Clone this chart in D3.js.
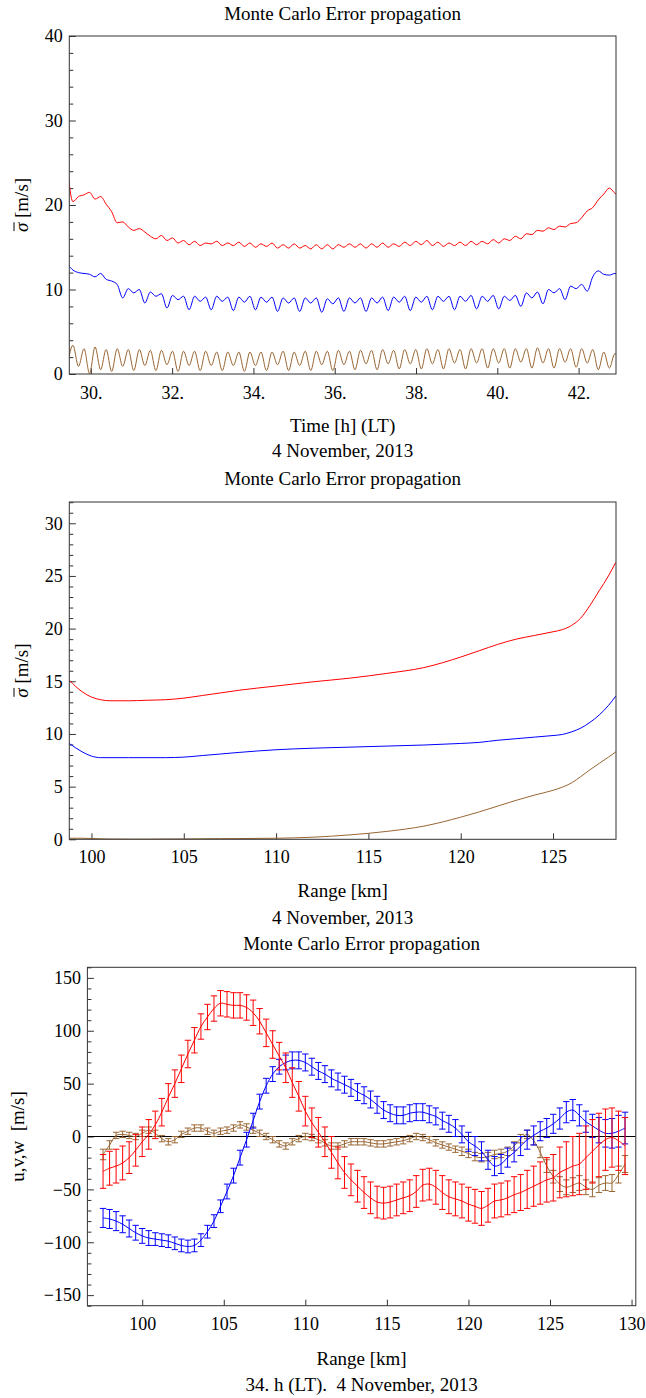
<!DOCTYPE html>
<html>
<head>
<meta charset="utf-8">
<script src="https://cdn.jsdelivr.net/npm/d3@7"></script>
<style>
  body { margin: 0; background: #fff; }
  svg { display: block; }
</style>
</head>
<body>
<svg id="chart" width="646" height="1398"></svg>
<script>
// ---------- Panel 1: mean sigma vs local time (uniform sampling) ----------
const hourStart = 29.424;
const hourStep = 0.13604;
const sigmaU_time = [
  24.5, 20.4, 21.0, 21.2, 21.5, 20.7, 21.0, 20.1, 19.2, 17.9,
  18.0, 17.4, 17.0, 17.2, 16.8, 16.3, 16.0, 16.4, 15.8, 16.1,
  15.5, 15.8, 15.3, 15.7, 15.2, 15.5, 15.4, 15.7, 15.2, 15.5,
  15.2, 15.6, 15.1, 15.5, 15.0, 15.4, 15.1, 15.5, 14.9, 15.3,
  14.9, 15.4, 14.9, 15.2, 14.8, 15.3, 14.8, 15.3, 14.8, 15.3,
  15.0, 15.4, 15.0, 15.4, 14.9, 15.4, 15.0, 15.5, 15.0, 15.4,
  15.1, 15.6, 15.2, 15.7, 15.3, 15.8, 15.2, 15.6, 15.1, 15.5,
  15.2, 15.6, 15.2, 15.7, 15.3, 15.7, 15.4, 15.9, 15.5, 16.0,
  15.8, 16.3, 16.0, 16.6, 16.5, 17.0, 16.9, 17.3, 17.1, 17.5,
  17.4, 17.8, 17.9, 18.5, 19.3, 19.7, 20.6, 21.3, 22.0, 21.4,
  21.0
];
const sigmaV_time = [
  13.0, 12.3, 12.0, 11.9, 11.8, 11.5, 11.9, 11.2, 11.0, 10.6,
  9.0, 10.1, 9.6, 10.0, 8.4, 9.7, 9.2, 9.5, 7.8, 9.3,
  8.8, 9.2, 7.6, 9.2, 8.6, 9.1, 7.6, 9.2, 8.6, 9.1,
  7.5, 9.1, 8.5, 9.2, 7.6, 9.1, 8.5, 9.1, 7.4, 9.0,
  8.4, 9.0, 7.4, 9.0, 8.4, 9.0, 7.3, 8.9, 8.3, 9.0,
  7.4, 9.0, 8.4, 9.0, 7.4, 9.0, 8.4, 9.1, 7.5, 9.1,
  8.5, 9.2, 7.5, 9.1, 8.5, 9.2, 7.6, 9.2, 8.6, 9.2,
  7.6, 9.2, 8.6, 9.3, 7.7, 9.2, 8.6, 9.3, 7.7, 9.2,
  8.7, 9.3, 8.0, 9.6, 9.0, 9.7, 8.3, 10.0, 9.6, 10.1,
  8.8, 10.4, 10.1, 10.6, 9.8, 11.5, 12.2, 11.8, 11.7, 11.9,
  11.8
];
const sigmaW_time = [
  1.0, 3.4, 0.9, 3.0, 0.05, 3.2, 0.5, 2.9, 0.3, 3.0,
  0.9, 2.9, 0.4, 2.9, 1.0, 2.8, 0.4, 2.8, 1.1, 2.7,
  0.3, 2.7, 1.0, 2.7, 0.4, 2.7, 1.0, 2.6, 0.4, 2.6,
  1.0, 2.6, 0.3, 2.6, 1.0, 2.6, 0.4, 2.6, 1.1, 2.7,
  0.4, 2.6, 1.0, 2.7, 0.4, 2.7, 1.1, 2.7, 0.4, 2.8,
  1.1, 2.7, 0.5, 2.8, 1.2, 2.8, 0.5, 2.9, 1.2, 2.8,
  0.6, 2.9, 1.2, 2.9, 0.6, 3.0, 1.2, 2.9, 0.6, 3.0,
  1.3, 2.9, 0.6, 3.0, 1.3, 3.0, 0.7, 3.0, 1.3, 3.0,
  0.7, 3.0, 1.4, 3.0, 0.7, 3.1, 1.3, 3.0, 0.7, 3.0,
  1.4, 3.0, 0.8, 3.0, 1.3, 2.9, 0.5, 2.6, 0.7, 2.4,
  2.0
];
const timeTicks = [30, 32, 34, 36, 38, 40, 42];

// ---------- Panel 2: mean sigma vs range ----------
const ranges2 = [98.8, 99.5, 100, 100.5, 101, 102, 103, 104, 105, 106, 107, 108, 110, 112, 114,
                 116, 118, 120, 121, 122, 123, 124, 125, 125.5, 126, 126.5, 127, 127.5, 128, 128.4];
const sigmaU_range = [15.1, 14.0, 13.5, 13.25, 13.15, 13.15, 13.2, 13.25, 13.4, 13.65, 13.9, 14.15, 14.55, 14.95, 15.3,
                      15.75, 16.3, 17.3, 17.9, 18.5, 19.0, 19.35, 19.7, 19.9, 20.3, 21.0, 22.2, 23.6, 25.0, 26.3];
const sigmaV_range = [9.1, 8.3, 7.9, 7.75, 7.75, 7.75, 7.75, 7.75, 7.8, 7.95, 8.1, 8.25, 8.5, 8.65, 8.75,
                      8.85, 8.95, 9.1, 9.2, 9.4, 9.55, 9.7, 9.85, 9.95, 10.2, 10.55, 11.1, 11.8, 12.7, 13.6];
const sigmaW_range = [0.1, 0.1, 0.08, 0.05, 0.03, 0.02, 0.02, 0.03, 0.04, 0.05, 0.06, 0.07, 0.1, 0.2, 0.42,
                      0.75, 1.25, 2.1, 2.6, 3.15, 3.7, 4.2, 4.65, 4.95, 5.35, 5.95, 6.6, 7.2, 7.8, 8.3];

// ---------- Panel 3: wind profile at 34 h LT with error bars ----------
const rangeStart = 97.6;
const rangeStep = 0.4;
const uMean = [
  -33, -30, -28, -25, -20, -13, -5, 2, 11, 23,
  37, 50, 64, 78, 91, 104, 113, 121, 126, 125,
  124, 124, 122, 117, 109, 98, 87, 76, 65, 51,
  38, 24, 13, 4, -5, -15, -25, -34, -41, -47,
  -53, -58, -62, -63, -62, -60, -58, -56, -52, -46,
  -45, -48, -53, -57, -59, -61, -64, -66, -68, -65,
  -61, -60, -58, -55, -53, -50, -47, -44, -41, -39,
  -34, -31, -28, -26, -20, -14, -8, -3, -1, -4,
  -9
];
const uErr = [
  16, 16, 16, 16, 15, 15, 14, 14, 13, 13,
  13, 13, 13, 13, 12, 12, 12, 12, 12, 12,
  12, 12, 12, 12, 12, 13, 13, 13, 14, 14,
  14, 14, 14, 14, 14, 15, 15, 15, 15, 15,
  15, 15, 15, 15, 15, 15, 15, 15, 15, 15,
  15, 16, 16, 16, 16, 16, 16, 16, 16, 16,
  16, 16, 16, 17, 17, 18, 19, 20, 21, 22,
  24, 26, 28, 29, 30, 30, 30, 29, 28, 28,
  27
];
const vMean = [
  -77, -78, -80, -83, -87, -91, -94, -96, -97, -98,
  -99, -101, -103, -104, -103, -98, -90, -80, -66, -52,
  -37, -20, -3, 15, 33, 48, 59, 66, 70, 72,
  72, 70, 66, 62, 59, 55, 52, 49, 46, 42,
  39, 35, 30, 25, 22, 20, 20, 22, 23, 23,
  21, 19, 15, 12, 8, 2, -5, -9, -14, -22,
  -28, -26, -20, -15, -9, -3, 1, 5, 8, 12,
  17, 23, 25, 20, 14, 10, 6, 3, 3, 5,
  8
];
const vErr = [
  9, 9, 9, 8, 8, 7, 7, 7, 6, 6,
  6, 6, 6, 6, 6, 6, 6, 6, 6, 7,
  7, 7, 7, 7, 7, 7, 7, 7, 7, 8,
  8, 8, 8, 8, 8, 8, 8, 8, 8, 8,
  8, 8, 8, 8, 8, 8, 8, 8, 8, 8,
  8, 8, 8, 8, 8, 8, 9, 9, 9, 9,
  9, 9, 9, 9, 9, 9, 9, 9, 9, 9,
  10, 10, 10, 10, 10, 11, 12, 13, 14, 15,
  15
];
const wMean = [
  -17, -8, 1, 2, 1, 0, 3, 6, 3, -2,
  -5, -3, 2, 5, 8, 8, 5, 3, 5, 6,
  8, 11, 9, 6, 3, 0, -3, -7, -9, -5,
  -2, 0, -1, -3, -6, -9, -9, -7, -5, -5,
  -5, -6, -7, -7, -6, -5, -4, -2, 0, -1,
  -3, -6, -8, -10, -12, -14, -16, -19, -20, -19,
  -17, -16, -14, -9, -2, 2, -4, -15, -28, -38,
  -45, -48, -46, -44, -48, -50, -46, -44, -44, -36,
  -26
];
const wErr = [
  5, 4, 3, 3, 3, 3, 3, 3, 3, 3,
  3, 3, 3, 3, 3, 3, 3, 3, 3, 3,
  3, 3, 3, 3, 3, 3, 3, 3, 3, 3,
  3, 3, 3, 3, 3, 3, 3, 3, 3, 3,
  3, 3, 3, 3, 3, 3, 3, 3, 3, 3,
  3, 3, 3, 3, 3, 4, 4, 4, 4, 4,
  4, 4, 4, 4, 4, 4, 4, 5, 6, 6,
  7, 7, 7, 7, 7, 7, 7, 7, 8, 8,
  8
];
const rangeTicks3 = [100, 105, 110, 115, 120, 125, 130];

const RED = "#ff0000", BLUE = "#0000ff", BROWN = "#996633";
const FRAME = "#333";
const SERIF = '"Liberation Serif", "Times New Roman", Times, serif';

const svg = d3.select("#chart");
svg.append("rect").attr("width", 646).attr("height", 1398).attr("fill", "#fff");

let clipCount = 0;
function panel(p) {
  const x = d3.scaleLinear().domain(p.xDomain).range([p.left, p.right]);
  const y = d3.scaleLinear().domain(p.yDomain).range([p.bottom, p.top]);
  const g = svg.append("g");
  const clipId = "clip" + (clipCount++);
  svg.append("clipPath").attr("id", clipId).append("rect")
    .attr("x", p.left).attr("y", p.top)
    .attr("width", p.right - p.left).attr("height", p.bottom - p.top);

  const styleAxis = s => {
    s.select(".domain").remove();
    s.attr("font-size", 18).attr("color", FRAME);
    s.selectAll("text").attr("fill", "#000");
  };
  // minor y ticks
  g.append("g").attr("transform", `translate(${p.left},0)`)
    .call(d3.axisLeft(y).tickValues(p.yMinor).tickSize(-4).tickFormat(""))
    .call(styleAxis);
  // major y ticks
  g.append("g").attr("transform", `translate(${p.left},0)`)
    .call(d3.axisLeft(y).tickValues(p.yTicks).tickSize(-6.5).tickPadding(6.5)
      .tickFormat(p.yFmt || d3.format("d")))
    .call(styleAxis);
  // x ticks
  g.append("g").attr("transform", `translate(0,${p.bottom})`)
    .call(d3.axisBottom(x).tickValues(p.xTicks).tickSize(-6).tickPadding(p.xPad)
      .tickFormat(p.xFmt || d3.format("d")))
    .call(styleAxis);

  const plot = g.append("g").attr("clip-path", `url(#${clipId})`);
  // frame
  g.append("rect").attr("x", p.left).attr("y", p.top)
    .attr("width", p.right - p.left).attr("height", p.bottom - p.top)
    .attr("fill", "none").attr("stroke", FRAME).attr("stroke-width", 1);

  const cx = (p.left + p.right) / 2;
  g.append("text").attr("x", cx).attr("y", p.titleY).attr("text-anchor", "middle")
    .attr("font-size", 19).text("Monte Carlo Error propagation");
  g.append("text").attr("x", cx).attr("y", p.xLabelY).attr("text-anchor", "middle")
    .attr("font-size", 19).text(p.xLabel);
  g.append("text").attr("x", cx).attr("y", p.dateY).attr("text-anchor", "middle")
    .attr("font-size", 19).style("white-space", "pre").text(p.date);

  const yg = g.append("g")
    .attr("transform", `translate(${p.yLabelX},${(p.top + p.bottom) / 2}) rotate(-90)`);
  p.yLabel(yg);

  return { x, y, plot };
}

// sigma with an overbar, followed by the unit
function sigmaLabel(yg) {
  const t = yg.append("text").attr("text-anchor", "middle").attr("font-size", 19)
    .style("font-family", SERIF).style("white-space", "pre");
  t.append("tspan").attr("font-style", "italic").text("σ");
  t.append("tspan").text(" [m/s]");
  const ext = t.node().getExtentOfChar(0);
  yg.append("line")
    .attr("x1", ext.x + 1).attr("x2", ext.x + ext.width + 0.5)
    .attr("y1", ext.y + 3).attr("y2", ext.y + 3)
    .attr("stroke", "#000").attr("stroke-width", 1);
}

// ----- Panel 1 -----
{
  const p = panel({
    left: 69.3, right: 616, top: 36, bottom: 374,
    xDomain: [29.47, 42.92], yDomain: [0, 40],
    xTicks: timeTicks, xFmt: d => d + ".", xPad: 12,
    yTicks: [0, 10, 20, 30, 40],
    yMinor: d3.range(2, 40, 2).filter(v => v % 10 !== 0),
    titleY: 20, xLabel: "Time [h] (LT)", xLabelY: 432,
    date: "4 November, 2013", dateY: 457,
    yLabelX: 28, yLabel: sigmaLabel
  });
  const hours = sigmaU_time.map((_, i) => hourStart + i * hourStep);
  const line = vals => d3.line()
    .x((d, i) => p.x(hours[i])).y(d => p.y(d))
    .curve(d3.curveMonotoneX)(vals);
  [[sigmaW_time, BROWN], [sigmaV_time, BLUE], [sigmaU_time, RED]].forEach(([vals, c]) => {
    p.plot.append("path").attr("d", line(vals)).attr("fill", "none")
      .attr("stroke", c).attr("stroke-width", 1);
  });
}

// ----- Panel 2 -----
{
  const p = panel({
    left: 69.3, right: 616, top: 502, bottom: 839.3,
    xDomain: [98.8, 128.41], yDomain: [0, 32.02],
    xTicks: [100, 105, 110, 115, 120, 125], xPad: 10.5,
    yTicks: [0, 5, 10, 15, 20, 25, 30],
    yMinor: d3.range(1, 33, 1).filter(v => v % 5 !== 0),
    titleY: 485, xLabel: "Range [km]", xLabelY: 897,
    date: "4 November, 2013", dateY: 924,
    yLabelX: 28, yLabel: sigmaLabel
  });
  const line = vals => d3.line()
    .x((d, i) => p.x(ranges2[i])).y(d => p.y(d))
    .curve(d3.curveMonotoneX)(vals);
  [[sigmaW_range, BROWN], [sigmaV_range, BLUE], [sigmaU_range, RED]].forEach(([vals, c]) => {
    p.plot.append("path").attr("d", line(vals)).attr("fill", "none")
      .attr("stroke", c).attr("stroke-width", 1);
  });
}

// ----- Panel 3 -----
{
  const p = panel({
    left: 87.4, right: 635.8, top: 967.3, bottom: 1305.7,
    xDomain: [96.64, 130.26], yDomain: [-160, 160],
    xTicks: rangeTicks3, xPad: 11.5,
    yTicks: [-150, -100, -50, 0, 50, 100, 150],
    yMinor: d3.range(-160, 161, 10).filter(v => v % 50 !== 0),
    titleY: 950, xLabel: "Range [km]", xLabelY: 1365,
    date: "34. h (LT).  4 November, 2013", dateY: 1391,
    yLabelX: 24,
    yLabel: yg => yg.append("text").attr("text-anchor", "middle").attr("font-size", 19)
      .style("white-space", "pre").text("u,v,w  [m/s]")
  });
  // zero reference line
  p.plot.append("line").attr("x1", p.x.range()[0]).attr("x2", p.x.range()[1])
    .attr("y1", p.y(0)).attr("y2", p.y(0)).attr("stroke", "#000").attr("stroke-width", 1);

  const ranges = uMean.map((_, i) => rangeStart + i * rangeStep);
  const cap = 3.2;
  const series = [[wMean, wErr, BROWN], [vMean, vErr, BLUE], [uMean, uErr, RED]];
  series.forEach(([m, e, c]) => {
    const g = p.plot.append("g").attr("stroke", c).attr("stroke-width", 1).attr("fill", "none");
    const pts = m.map((v, i) => ({ r: ranges[i], v, e: e[i] }));
    g.selectAll("path.bar").data(pts).join("path").attr("class", "bar")
      .attr("d", d => {
        const X = p.x(d.r), y1 = p.y(d.v + d.e), y2 = p.y(d.v - d.e);
        return `M${X},${y1}V${y2}M${X - cap},${y1}H${X + cap}M${X - cap},${y2}H${X + cap}`;
      });
    g.append("path").attr("d", d3.line().x(d => p.x(d.r)).y(d => p.y(d.v))
      .curve(d3.curveCatmullRom)(pts));
  });
}

// serif type everywhere
svg.selectAll("g").attr("font-family", null);
svg.selectAll("text").style("font-family", SERIF);
</script>
</body>
</html>
